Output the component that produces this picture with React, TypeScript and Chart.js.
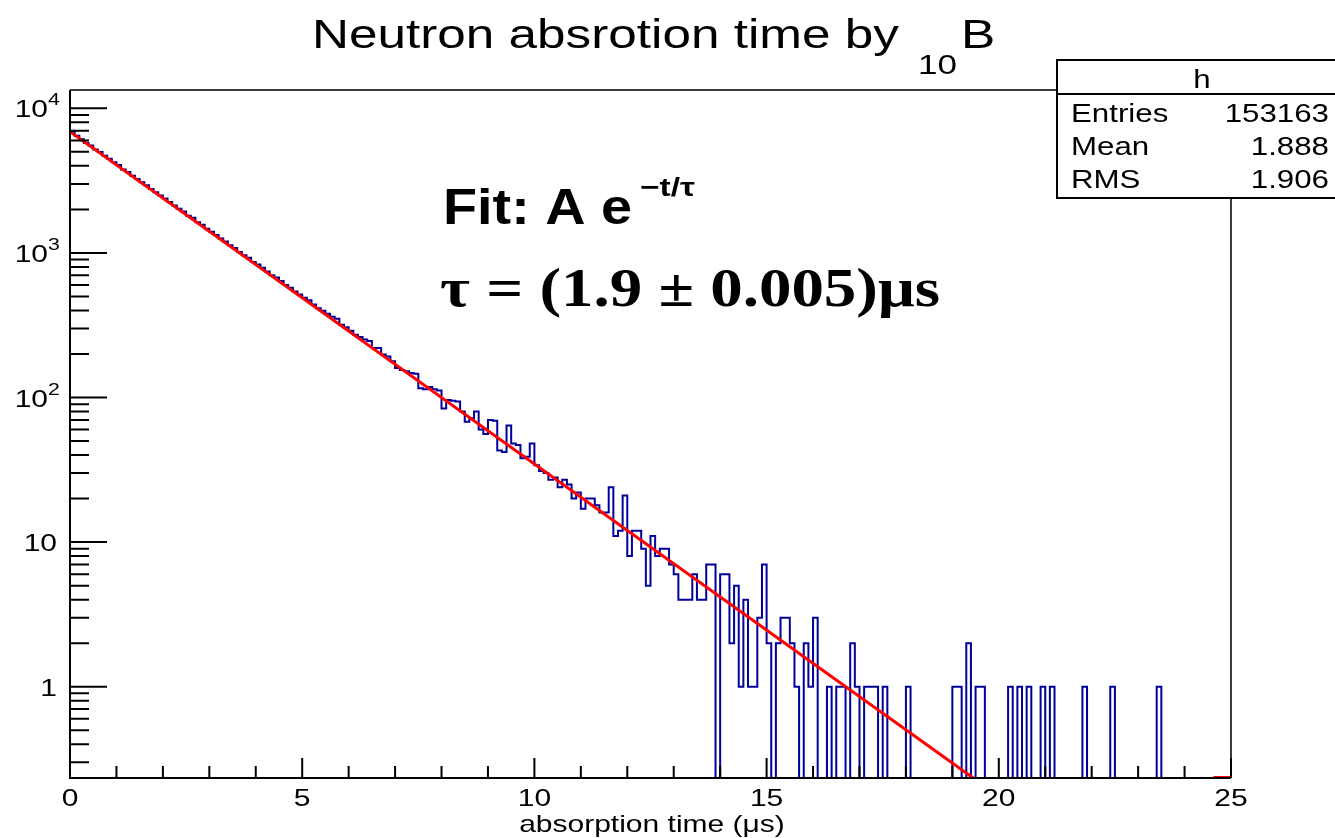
import React, { useEffect, useRef } from "react";
import { Chart, registerables } from "chart.js";

Chart.register(...registerables);

// ---------------- data ----------------
const BIN_WIDTH = 0.1;
const X_MIN = 0;
const X_MAX = 25;
const Y_MIN = 0.2337;
const Y_MAX = 13385;

// histogram bin contents, bins of 0.1 us from 0 to 25 us
const counts: number[] = [
  6890, 6460, 6120, 5760, 5540, 5180, 4990, 4690, 4470, 4230,
  4050, 3780, 3630, 3420, 3240, 3080, 2940, 2770, 2630, 2490,
  2380, 2250, 2130, 2020, 1930, 1810, 1750, 1630, 1565, 1470,
  1400, 1330, 1260, 1200, 1130, 1080, 1015, 965, 925, 865,
  830, 790, 745, 700, 675, 640, 600, 575, 540, 515,
  490, 470, 440, 415, 398, 380, 362, 350, 318, 306,
  290, 272, 262, 252, 246, 220, 220, 198, 192, 178,
  160, 155, 152, 148, 146, 116, 114, 118, 114, 112,
  84, 96, 95, 94, 80, 68, 72, 80, 60, 56,
  70, 69, 43, 42, 64, 48, 47, 38, 39, 48,
  34, 31, 30, 27, 28, 24, 27, 25, 20, 22,
  17, 20, 20, 18, 16, 16, 24, 11, 12, 21,
  8, 12, 12, 9, 5, 11, 8, 9, 9, 7,
  6, 4, 4, 4, 6, 4, 4, 7, 7, 0,
  6, 6, 2, 5, 1, 4, 1, 1, 3, 7,
  2, 0, 2, 3, 3, 2, 1, 0, 2, 1,
  3, 0, 0, 1, 0, 1, 1, 0, 2, 1,
  0, 1, 1, 1, 0, 1, 0, 0, 0, 0,
  1, 0, 0, 0, 0, 0, 0, 0, 0, 0,
  1, 1, 0, 2, 0, 1, 1, 0, 0, 0,
  0, 0, 1, 0, 1, 0, 1, 0, 0, 1,
  0, 1, 0, 0, 0, 0, 0, 0, 1, 0,
  0, 0, 0, 0, 1, 0, 0, 0, 0, 0,
  0, 0, 0, 0, 1, 0, 0, 0, 0, 0,
  0, 0, 0, 0, 0, 0, 0, 0, 0, 0,
];

// fit A e^{-t/tau}: straight on the log scale, end points
const fitTimes = [0, 19.45];
const fitValues = [6900, 0.2337];
const fitTailTimes = [24.62, 25];

const xMajorTicks = [0, 5, 10, 15, 20, 25];
const xMajorLabels = ["0", "5", "10", "15", "20", "25"];
const xMinorTicks = [1, 2, 3, 4, 6, 7, 8, 9, 11, 12, 13, 14, 16, 17, 18, 19, 21, 22, 23, 24];
const yDecades = [1, 10, 100, 1000, 10000];
const yLabelBases = ["1", "10", "10", "10", "10"];
const yLabelExps = ["", "", "2", "3", "4"];
const yMinorDecades = [0.1, 1, 10, 100, 1000, 10000];
const yMinorMantissas = [2, 3, 4, 5, 6, 7, 8, 9];

const titleMain = "Neutron absrotion time by";
const titleSub = "10";
const titleEnd = "B";
const xAxisTitle = "absorption time (μs)";
const statsName = "h";
const statsLabels = ["Entries", "Mean", "RMS"];
const statsValues = ["153163", "1.888", "1.906"];
const fitLabel = "Fit: A e";
const fitExponent = "−t/τ";
const tauLabel = "τ = (1.9 ± 0.005)μs";

// ---------------- helpers ----------------
const SANS = '"Liberation Sans", Arial, Helvetica, sans-serif';
const SERIF = '"Liberation Serif", "Times New Roman", serif';
const SX = 1.25;

function drawText(
  ctx: CanvasRenderingContext2D,
  s: string,
  x: number,
  y: number,
  size: number,
  align: "left" | "center" | "right",
  sx: number = SX,
  weight: string = "normal",
  family: string = SANS,
  color: string = "#000"
) {
  ctx.save();
  ctx.font = `${weight} ${size}px ${family}`;
  ctx.textBaseline = "alphabetic";
  ctx.textAlign = "left";
  ctx.fillStyle = color;
  const w = ctx.measureText(s).width * sx;
  const x0 = align === "center" ? x - w / 2 : align === "right" ? x - w : x;
  ctx.translate(x0, y);
  ctx.scale(sx, 1);
  ctx.fillText(s, 0, 0);
  ctx.restore();
  return w;
}

function drawFitted(
  ctx: CanvasRenderingContext2D,
  s: string,
  x: number,
  y: number,
  size: number,
  width: number,
  weight: string,
  family: string
) {
  ctx.save();
  ctx.font = `${weight} ${size}px ${family}`;
  const w = ctx.measureText(s).width;
  ctx.restore();
  return drawText(ctx, s, x, y, size, "left", width / w, weight, family);
}

const rootPlugin = {
  id: "rootFrame",
  afterDatasetsDraw(chart: any) {
    const ctx: CanvasRenderingContext2D = chart.ctx;
    const { left, right, top, bottom } = chart.chartArea;
    const xs = chart.scales.x;
    const ys = chart.scales.y;
    ctx.save();
    // frame
    ctx.lineCap = "butt";
    ctx.strokeStyle = "#3a3a3a";
    ctx.lineWidth = 2;
    ctx.beginPath();
    ctx.moveTo(left, top);
    ctx.lineTo(right, top);
    ctx.lineTo(right, bottom);
    ctx.stroke();
    ctx.strokeStyle = "#000";
    ctx.beginPath();
    ctx.moveTo(left, top);
    ctx.lineTo(left, bottom);
    ctx.lineTo(right, bottom);
    ctx.stroke();

    // x ticks
    ctx.lineWidth = 2;
    ctx.beginPath();
    xMajorTicks.forEach((v) => {
      const px = xs.getPixelForValue(v);
      ctx.moveTo(px, bottom);
      ctx.lineTo(px, bottom - 20);
    });
    xMinorTicks.forEach((v) => {
      const px = xs.getPixelForValue(v);
      ctx.moveTo(px, bottom);
      ctx.lineTo(px, bottom - 12);
    });
    // y ticks
    yDecades.forEach((v) => {
      const py = ys.getPixelForValue(v);
      ctx.moveTo(left, py);
      ctx.lineTo(left + 37, py);
    });
    yMinorDecades.forEach((d) => {
      yMinorMantissas.forEach((m) => {
        const v = m * d;
        if (v < Y_MIN || v > Y_MAX) return;
        const py = ys.getPixelForValue(v);
        ctx.moveTo(left, py);
        ctx.lineTo(left + 19, py);
      });
    });
    ctx.stroke();
    ctx.restore();

    // x labels
    xMajorTicks.forEach((v, i) => {
      drawText(ctx, xMajorLabels[i], xs.getPixelForValue(v), bottom + 28, 24, "center");
    });
    // y labels
    yDecades.forEach((v, i) => {
      const py = ys.getPixelForValue(v);
      if (yLabelExps[i] === "") {
        drawText(ctx, yLabelBases[i], 57, py + 9, 24, "right");
      } else {
        drawText(ctx, yLabelBases[i], 48, py + 9, 24, "right");
        drawText(ctx, yLabelExps[i], 48, py - 3, 17, "left");
      }
    });
    // axis title
    drawText(ctx, xAxisTitle, 652, 832, 24, "center");
  },
  afterDraw(chart: any) {
    const ctx: CanvasRenderingContext2D = chart.ctx;
    // title
    drawText(ctx, titleMain, 312, 48, 41, "left");
    drawText(ctx, titleSub, 918, 74, 28, "left");
    drawText(ctx, titleEnd, 961, 48, 41, "left");

    // stats box
    ctx.save();
    ctx.fillStyle = "#fff";
    ctx.fillRect(1057, 60, 300, 138);
    ctx.strokeStyle = "#000";
    ctx.lineWidth = 2;
    ctx.strokeRect(1057, 60, 300, 138);
    ctx.beginPath();
    ctx.moveTo(1057, 94);
    ctx.lineTo(1357, 94);
    ctx.stroke();
    ctx.restore();
    drawText(ctx, statsName, 1202, 88, 25, "center");
    const rowBase = [122, 155, 188];
    statsLabels.forEach((s, i) => drawText(ctx, s, 1071, rowBase[i], 25, "left"));
    statsValues.forEach((s, i) => drawText(ctx, s, 1329, rowBase[i], 25, "right"));

    // fit annotation
    drawFitted(ctx, fitLabel, 443, 224, 50, 189, "bold", SANS);
    drawFitted(ctx, fitExponent, 640, 196, 26, 55, "bold", SANS);
    drawFitted(ctx, tauLabel, 440, 306, 54, 500, "bold", SERIF);
  },
};

export default function App() {
  const ref = useRef<HTMLCanvasElement>(null);
  useEffect(() => {
    const histPoints = counts.map((c, i) => ({ x: i * BIN_WIDTH, y: c > 0 ? c : Y_MIN }));
    const last = counts[counts.length - 1];
    histPoints.push({ x: X_MAX, y: last > 0 ? last : Y_MIN });
    const fitPoints = fitTimes.map((t, i) => ({ x: t, y: fitValues[i] }));
    const tailPoints = fitTailTimes.map((t) => ({ x: t, y: Y_MIN }));

    const chart = new Chart(ref.current as HTMLCanvasElement, {
      type: "line",
      data: {
        datasets: [
          {
            label: "fit",
            data: fitPoints,
            borderColor: "#ff0000",
            borderWidth: 3,
            pointRadius: 0,
            fill: false,
            order: 0,
          },
          {
            label: "fit tail",
            data: tailPoints,
            borderColor: "#ff0000",
            borderWidth: 4,
            pointRadius: 0,
            fill: false,
            order: 0,
          },
          {
            label: "h",
            data: histPoints,
            borderColor: "#00009a",
            borderWidth: 2,
            pointRadius: 0,
            stepped: "before",
            fill: false,
            order: 1,
          },
        ],
      },
      options: {
        animation: false,
        responsive: false,
        devicePixelRatio: 1,
        parsing: true,
        layout: { padding: { left: 70, top: 90, right: 104, bottom: 60 } },
        scales: {
          x: { type: "linear", min: X_MIN, max: X_MAX, display: false },
          y: { type: "logarithmic", min: Y_MIN, max: Y_MAX, display: false },
        },
        plugins: {
          legend: { display: false },
          tooltip: { enabled: false },
          title: { display: false },
        },
      },
      plugins: [rootPlugin],
    } as any);
    return () => chart.destroy();
  }, []);

  return (
    <div style={{ position: "fixed", left: 0, top: 0, width: 1335, height: 838, background: "#fff" }}>
      <canvas ref={ref} width={1335} height={838} style={{ display: "block", width: 1335, height: 838 }} />
    </div>
  );
}
